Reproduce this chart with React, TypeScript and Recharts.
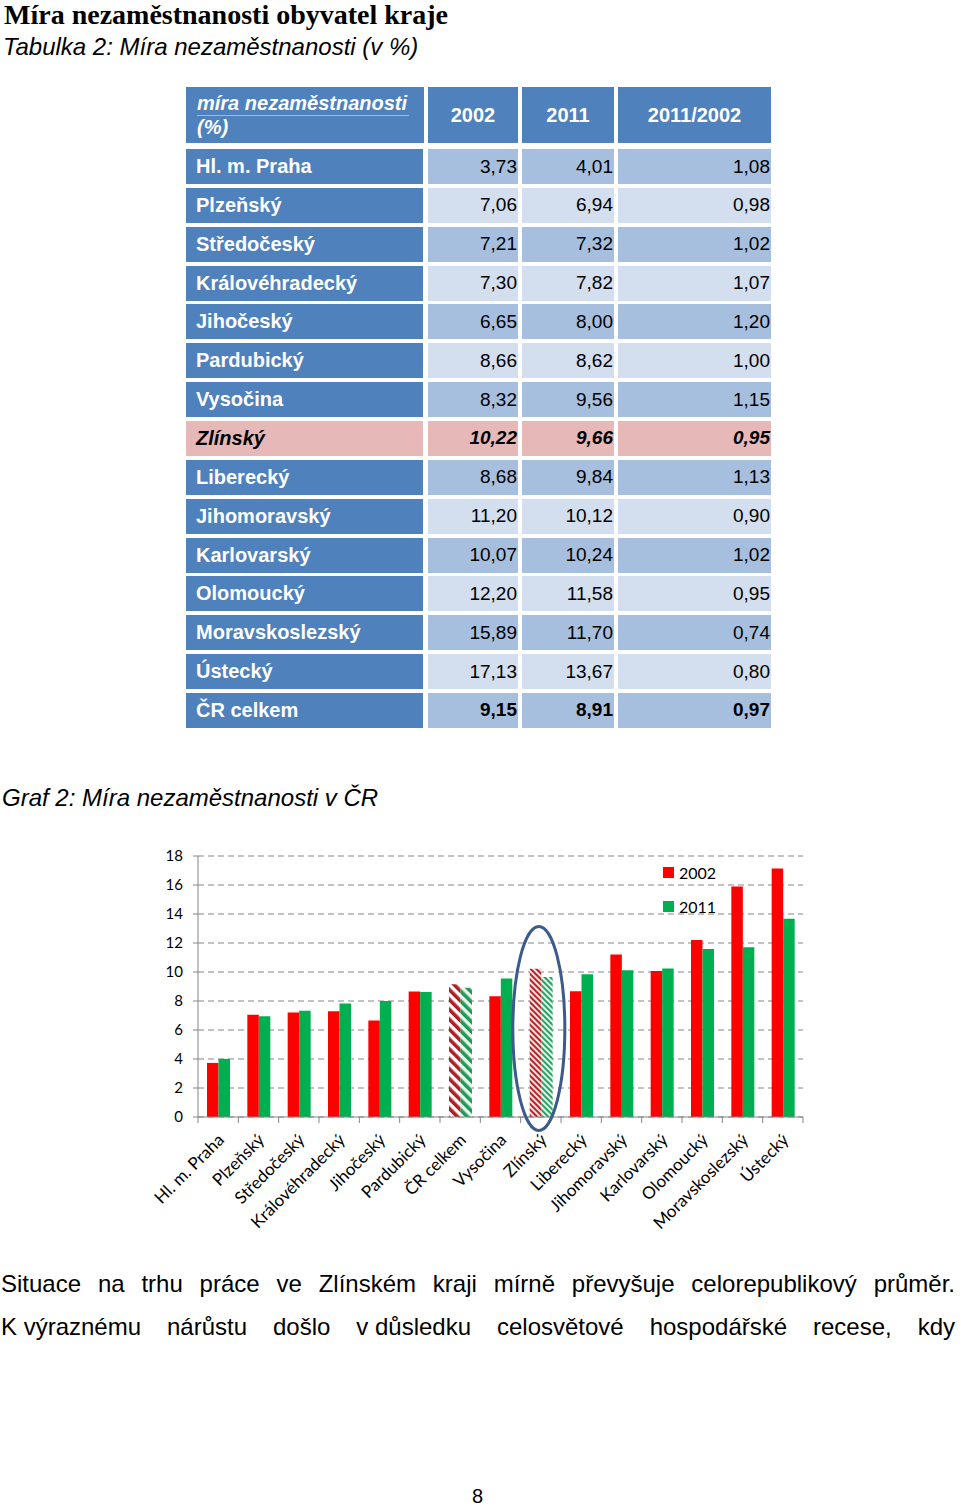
import { BarChart, Bar, Cell, XAxis, YAxis, CartesianGrid, ReferenceDot } from 'recharts';

// table data (order as in Tabulka 2)
const tableRegions = ['Hl. m. Praha', 'Plzeňský', 'Středočeský', 'Královéhradecký', 'Jihočeský', 'Pardubický', 'Vysočina', 'Zlínský', 'Liberecký', 'Jihomoravský', 'Karlovarský', 'Olomoucký', 'Moravskoslezský', 'Ústecký', 'ČR celkem'];
const rate2002 = ['3,73', '7,06', '7,21', '7,30', '6,65', '8,66', '8,32', '10,22', '8,68', '11,20', '10,07', '12,20', '15,89', '17,13', '9,15'];
const rate2011 = ['4,01', '6,94', '7,32', '7,82', '8,00', '8,62', '9,56', '9,66', '9,84', '10,12', '10,24', '11,58', '11,70', '13,67', '8,91'];
const ratio = ['1,08', '0,98', '1,02', '1,07', '1,20', '1,00', '1,15', '0,95', '1,13', '0,90', '1,02', '0,95', '0,74', '0,80', '0,97'];

// chart order (Graf 2)
const chartRegions = ['Hl. m. Praha', 'Plzeňský', 'Středočeský', 'Královéhradecký', 'Jihočeský', 'Pardubický', 'ČR celkem', 'Vysočina', 'Zlínský', 'Liberecký', 'Jihomoravský', 'Karlovarský', 'Olomoucký', 'Moravskoslezský', 'Ústecký'];
const yTicks = [0, 2, 4, 6, 8, 10, 12, 14, 16, 18];

const num = (s: string) => Number(s.replace(',', '.'));

const chartData = chartRegions.map((name) => {
  const i = tableRegions.indexOf(name);
  return { name, y2002: num(rate2002[i]), y2011: num(rate2011[i]) };
});

const RED = '#ff0000';
const GREEN = '#00b050';
const CHART_FONT = "Lato, 'Open Sans', sans-serif";

const fillFor = (name: string, series: '2002' | '2011') => {
  if (name === 'ČR celkem') return series === '2002' ? 'url(#hatchRedWide)' : 'url(#hatchGreenWide)';
  if (name === 'Zlínský') return series === '2002' ? 'url(#hatchRedFine)' : 'url(#hatchGreenFine)';
  return series === '2002' ? RED : GREEN;
};

const PLOT_LEFT = 198;
const PLOT_RIGHT = 803;
const BAND = (PLOT_RIGHT - PLOT_LEFT) / chartRegions.length;

const XTick = ({ x, y, payload, index }: any) => (
  <g>
    <line x1={x - BAND / 2} y1={y - 8} x2={x - BAND / 2} y2={y - 2} stroke="#868686" />
    {index === chartRegions.length - 1 && (
      <line x1={x + BAND / 2} y1={y - 8} x2={x + BAND / 2} y2={y - 2} stroke="#868686" />
    )}
    <text
      x={x + 7}
      y={y + 16}
      transform={`rotate(-45, ${x + 7}, ${y + 16})`}
      textAnchor="end"
      fontSize={17}
      fill="#000"
      fontFamily={CHART_FONT}
    >
      {payload.value}
    </text>
  </g>
);

const legendItems = [
  { label: '2002', color: RED },
  { label: '2011', color: GREEN },
];

const cellStyle = (left: number, top: number, width: number, height: number, bg: string): any => ({
  position: 'absolute', left, top, width, height, background: bg, boxSizing: 'border-box',
  display: 'flex', alignItems: 'center',
});

const COLS = [
  { left: 186, width: 237 },
  { left: 428, width: 90 },
  { left: 522, width: 92 },
  { left: 618, width: 153 },
];
const ROW_TOP = 149;
const ROW_PITCH = 38.85;
const ROW_H = 35;

export default function App() {
  return (
    <div style={{ position: 'absolute', left: 0, top: 0, width: 960, height: 1506, background: '#fff', overflow: 'hidden', fontFamily: "'Liberation Sans', Arial, sans-serif" }}>
      <svg width={0} height={0} style={{ position: 'absolute' }}>
        <defs>
          <pattern id="hatchRedWide" width={7} height={7} patternUnits="userSpaceOnUse" patternTransform="rotate(-45)">
            <rect width={7} height={7} fill="#ffffff" />
            <rect width={3.6} height={7} fill="#b01e23" />
          </pattern>
          <pattern id="hatchGreenWide" width={7} height={7} patternUnits="userSpaceOnUse" patternTransform="rotate(-45)">
            <rect width={7} height={7} fill="#e8f6ee" />
            <rect width={3.6} height={7} fill="#1f9a55" />
          </pattern>
          <pattern id="hatchRedFine" width={4} height={4} patternUnits="userSpaceOnUse" patternTransform="rotate(-45)">
            <rect width={4} height={4} fill="#f8dede" />
            <rect width={2} height={4} fill="#b3262a" />
          </pattern>
          <pattern id="hatchGreenFine" width={4} height={4} patternUnits="userSpaceOnUse" patternTransform="rotate(-45)">
            <rect width={4} height={4} fill="#e4f5ec" />
            <rect width={2} height={4} fill="#27a260" />
          </pattern>
        </defs>
      </svg>

      <div style={{ position: 'absolute', left: 4, top: 1, fontFamily: "'Liberation Serif', serif", fontWeight: 700, fontSize: 28, lineHeight: '28px', color: '#000', whiteSpace: 'nowrap' }}>
        Míra nezaměstnanosti obyvatel kraje
      </div>
      <div style={{ position: 'absolute', left: 3, top: 33, fontStyle: 'italic', fontSize: 24, lineHeight: '28px', color: '#000', whiteSpace: 'nowrap' }}>
        Tabulka 2: Míra nezaměstnanosti (v %)
      </div>

      {/* table header */}
      <div style={{ ...cellStyle(186, 87, 238, 56, '#4f81bd'), alignItems: 'flex-start', flexDirection: 'column', justifyContent: 'center', paddingLeft: 11, color: '#fff', fontWeight: 700, fontStyle: 'italic', fontSize: 20, lineHeight: '23px' }}>
        <span style={{ borderBottom: '1px solid rgba(255,255,255,0.45)', paddingRight: 2 }}>míra nezaměstnanosti</span>
        <span>(%)</span>
      </div>
      {['2002', '2011', '2011/2002'].map((h, j) => (
        <div key={h} style={{ ...cellStyle(COLS[j + 1].left, 87, COLS[j + 1].width, 56, '#4f81bd'), justifyContent: 'center', color: '#fff', fontWeight: 700, fontSize: 20 }}>
          {h}
        </div>
      ))}

      {/* table rows */}
      {tableRegions.map((r, i) => {
        const top = ROW_TOP + i * ROW_PITCH;
        const zl = r === 'Zlínský';
        const total = r === 'ČR celkem';
        const bg = zl ? '#e6b9b8' : i % 2 === 0 ? '#a7bfde' : '#d3dfee';
        const txt: any = { fontSize: 19, color: '#000', fontWeight: zl || total ? 700 : 400, fontStyle: zl ? 'italic' : 'normal' };
        return (
          <div key={r}>
            <div style={{ ...cellStyle(COLS[0].left, top, COLS[0].width, ROW_H, zl ? '#e6b9b8' : '#4f81bd'), paddingLeft: 10, fontSize: 20, fontWeight: 700, fontStyle: zl ? 'italic' : 'normal', color: zl ? '#000' : '#fff' }}>
              {r}
            </div>
            {[rate2002[i], rate2011[i], ratio[i]].map((v, j) => (
              <div key={j} style={{ ...cellStyle(COLS[j + 1].left, top, COLS[j + 1].width, ROW_H, bg), justifyContent: 'flex-end', paddingRight: 1, ...txt }}>
                {v}
              </div>
            ))}
          </div>
        );
      })}

      <div style={{ position: 'absolute', left: 2, top: 784, fontStyle: 'italic', fontSize: 24, lineHeight: '28px', color: '#000', whiteSpace: 'nowrap' }}>
        Graf 2: Míra nezaměstnanosti v ČR
      </div>

      <div style={{ position: 'absolute', left: 0, top: 830 }}>
        <BarChart
          width={960}
          height={420}
          data={chartData}
          margin={{ top: 26, right: 960 - PLOT_RIGHT, bottom: 13, left: PLOT_LEFT - 40 }}
          barGap={0}
          barSize={11.5}
        >
          <CartesianGrid vertical={false} stroke="#868686" strokeDasharray="6 4" />
          <XAxis
            dataKey="name"
            interval={0}
            height={120}
            tickLine={false}
            axisLine={{ stroke: '#868686' }}
            tick={<XTick />}
          />
          <YAxis
            width={40}
            domain={[0, 18]}
            ticks={yTicks}
            interval={0}
            tickSize={5}
            tickMargin={10}
            axisLine={{ stroke: '#868686' }}
            tickLine={{ stroke: '#868686' }}
            tick={{ fill: '#000', fontSize: 15, fontFamily: CHART_FONT }}
          />
          <Bar dataKey="y2002" name="2002" fill={RED} isAnimationActive={false}>
            {chartData.map((d) => <Cell key={d.name} fill={fillFor(d.name, '2002')} />)}
          </Bar>
          <Bar dataKey="y2011" name="2011" fill={GREEN} isAnimationActive={false}>
            {chartData.map((d) => <Cell key={d.name} fill={fillFor(d.name, '2011')} />)}
          </Bar>
          <ReferenceDot
            x="Zlínský"
            y={6.1}
            ifOverflow="visible"
            shape={(p: any) => (
              <ellipse cx={p.cx - 2} cy={p.cy} rx={26} ry={102} fill="none" stroke="#3c5a8c" strokeWidth={3} />
            )}
          />
        </BarChart>
        <div style={{ position: 'absolute', left: 663, top: 25, fontFamily: CHART_FONT, fontSize: 16, color: '#000' }}>
          {legendItems.map((it) => (
            <div key={it.label} style={{ display: 'flex', alignItems: 'center', height: 34 }}>
              <span style={{ width: 11, height: 11, background: it.color, marginRight: 5 }} />
              {it.label}
            </div>
          ))}
        </div>
      </div>

      <div style={{ position: 'absolute', left: 1, top: 1270, width: 954, fontSize: 24, lineHeight: '28px', color: '#000' }}>
        <div style={{ textAlign: 'justify', textAlignLast: 'justify' } as any}>Situace na trhu práce ve Zlínském kraji mírně převyšuje celorepublikový průměr.</div>
        <div style={{ textAlign: 'justify', textAlignLast: 'justify', marginTop: 15 } as any}>
          <span style={{ display: 'inline-block', whiteSpace: 'nowrap' }}>K výraznému</span> nárůstu došlo <span style={{ display: 'inline-block', whiteSpace: 'nowrap' }}>v důsledku</span> celosvětové hospodářské recese, kdy
        </div>
      </div>

      <div style={{ position: 'absolute', left: 472, top: 1485, fontSize: 20, color: '#000' }}>8</div>
    </div>
  );
}
